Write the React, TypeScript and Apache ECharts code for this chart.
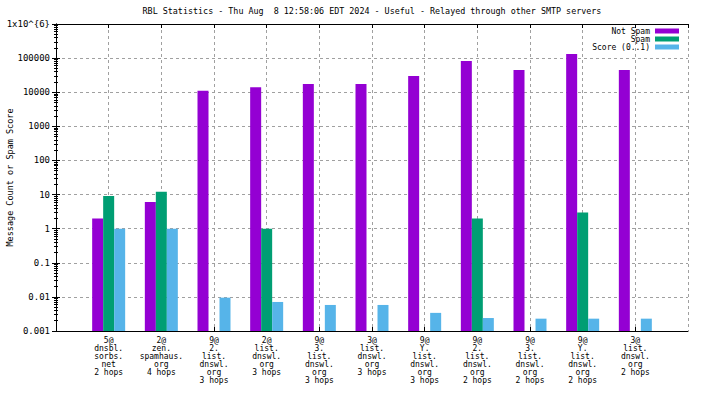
import React, { useEffect, useRef } from "react";
import * as echarts from "echarts";

const TITLE = "RBL Statistics - Thu Aug  8 12:58:06 EDT 2024 - Useful - Relayed through other SMTP servers";
const Y_NAME = "Message Count or Spam Score";

const categories = [
  "5@\ndnsbl.\nsorbs.\nnet\n2 hops",
  "2@\nzen.\nspamhaus.\norg\n4 hops",
  "9@\n2.\nlist.\ndnswl.\norg\n3 hops",
  "2@\nlist.\ndnswl.\norg\n3 hops",
  "9@\n3.\nlist.\ndnswl.\norg\n3 hops",
  "3@\nlist.\ndnswl.\norg\n3 hops",
  "9@\nY.\nlist.\ndnswl.\norg\n3 hops",
  "9@\n2.\nlist.\ndnswl.\norg\n2 hops",
  "9@\n3.\nlist.\ndnswl.\norg\n2 hops",
  "9@\nY.\nlist.\ndnswl.\norg\n2 hops",
  "3@\nlist.\ndnswl.\norg\n2 hops",
];

const notSpam = [2, 6, 11000, 14000, 17500, 17500, 30000, 82000, 45000, 132000, 45000];
const spam = [9, 12, null, 1, null, null, null, 2, null, 3, null];
const score = [1, 1, 0.0095, 0.0071, 0.0058, 0.0058, 0.0034, 0.0024, 0.0023, 0.0023, 0.0023];

const yTickLabels = ["0.001", "0.01", "0.1", "1", "10", "100", "1000", "10000", "100000", "1x10^{6}"];

const seriesNames = ["Not Spam", "Spam", "Score (0..1)"];
const colors = ["#9400d3", "#009e73", "#56b4e9"];

const FONT = "DejaVu Sans Mono";

export default function App() {
  const ref = useRef<HTMLDivElement>(null);
  useEffect(() => {
    document.body.style.margin = "0";
    const chart = echarts.init(ref.current!, null, { renderer: "svg" });
    const gridColor = "#a0a0a0";
    const legendTops = [27, 35, 43];
    const barW = 11;
    const offsets = [-barW, 0, barW];
    const xBase = {
      type: "value",
      min: 0,
      max: categories.length + 1,
      interval: 1,
      axisLine: { show: true, onZero: false, lineStyle: { color: "#000", width: 1 } },
      axisTick: { show: true, inside: true, length: 4, lineStyle: { color: "#000" } },
    };
    const yBase = {
      type: "log",
      logBase: 10,
      min: 0.001,
      max: 1000000,
      axisLine: { show: true, lineStyle: { color: "#000", width: 1 } },
      axisTick: { show: true, inside: true, length: 4, lineStyle: { color: "#000" } },
      minorTick: { show: true, splitNumber: 9, length: 2, lineStyle: { color: "#000" } },
    };
    const option: any = {
      animation: false,
      backgroundColor: "#ffffff",
      color: colors,
      title: {
        text: TITLE,
        left: 372,
        top: 7,
        textAlign: "center",
        padding: 0,
        textStyle: { fontFamily: FONT, fontSize: 8.4, fontWeight: "normal", color: "#000" },
      },
      legend: seriesNames.map((n, i) => ({
        data: [n],
        orient: "vertical",
        right: 25,
        top: legendTops[i],
        padding: 0,
        align: "right",
        itemWidth: 24,
        itemHeight: 5,
        icon: "rect",
        selectedMode: false,
        textStyle: { fontFamily: FONT, fontSize: 8, color: "#000", lineHeight: 8 },
      })),
      grid: { left: 56, right: 16, top: 24, bottom: 65, containLabel: false, outerBoundsMode: "none" },
      xAxis: [
        {
          ...xBase,
          position: "bottom",
          axisLabel: {
            margin: 5,
            fontFamily: FONT,
            fontSize: 8,
            lineHeight: 8,
            color: "#000",
            align: "center",
            verticalAlign: "top",
            showMinLabel: false,
            showMaxLabel: false,
            formatter: (v: number) => categories[Math.round(v) - 1] ?? "",
          },
          splitLine: { show: true, lineStyle: { color: gridColor, type: [3, 3], width: 1 } },
        },
        {
          ...xBase,
          position: "top",
          axisLabel: { show: false },
          splitLine: { show: false },
        },
      ],
      yAxis: [
        {
          ...yBase,
          name: Y_NAME,
          nameLocation: "middle",
          nameGap: 42,
          nameRotate: 90,
          nameMoveOverlap: false,
          nameTextStyle: { fontFamily: FONT, fontSize: 8.5, color: "#000" },
          axisLabel: {
            margin: 6,
            fontFamily: FONT,
            fontSize: 9,
            color: "#000",
            formatter: (v: number) => yTickLabels[Math.round(Math.log10(v)) + 3] ?? String(v),
          },
          splitLine: { show: true, lineStyle: { color: gridColor, type: [3, 3], width: 1 } },
        },
        {
          ...yBase,
          position: "right",
          axisLabel: { show: false },
          splitLine: { show: false },
        },
      ],
      series: [notSpam, spam, score].map((arr, i) => ({
        name: seriesNames[i],
        type: "custom",
        xAxisIndex: 0,
        yAxisIndex: 0,
        data: (arr as (number | null)[])
          .map((v, k) => (v == null ? null : [k + 1, v]))
          .filter((d) => d !== null),
        encode: { x: 0, y: 1 },
        renderItem: (params: any, api: any) => {
          const top = api.coord([api.value(0), api.value(1)]);
          const base = api.coord([api.value(0), 0.001]);
          const x = top[0] + offsets[i] - barW / 2;
          return {
            type: "rect",
            shape: { x, y: top[1], width: barW, height: base[1] - top[1] },
            style: { fill: colors[i] },
          };
        },
        itemStyle: { color: colors[i] },
      })),
    };
    chart.setOption(option);
    return () => chart.dispose();
  }, []);
  return <div ref={ref} style={{ width: 704, height: 396 }} />;
}
